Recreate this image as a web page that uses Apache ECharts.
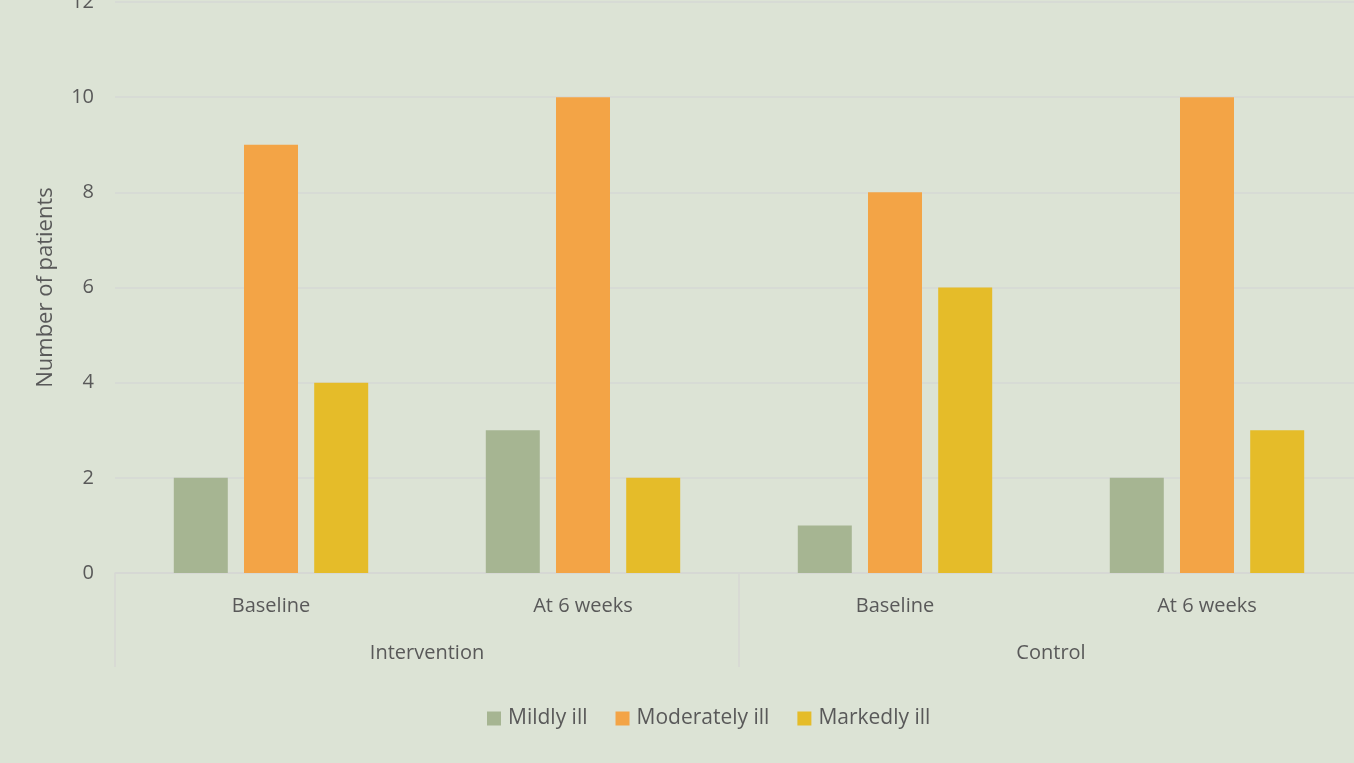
<!DOCTYPE html>
<html><head><meta charset="utf-8">
<script src="https://cdn.jsdelivr.net/npm/echarts@6/dist/echarts.min.js"></script>
<style>html,body{margin:0;padding:0;background:#dce3d5;}#c{width:1354px;height:763px;}</style>
</head><body><div id="c"></div>
<script>
const categories = ['Baseline', 'At 6 weeks', 'Baseline', 'At 6 weeks'];
const groups = ['Intervention', 'Control'];
const seriesNames = ['Mildly ill', 'Moderately ill', 'Markedly ill'];
const mildly = [2, 3, 1, 2];
const moderately = [9, 10, 8, 10];
const markedly = [4, 2, 6, 3];
const yTicks = { min: 0, max: 12, interval: 2 };

const colors = ['#a6b592', '#f3a446', '#e5bc29'];
const textColor = '#595959';
const font = 'Open Sans';
const chart = echarts.init(document.getElementById('c'));
const data = [mildly, moderately, markedly];
chart.setOption({
  backgroundColor: '#dce3d5',
  animation: false,
  textStyle: { fontFamily: font },
  grid: { left: 115, top: 2, width: 1248, height: 571, outerBoundsMode: 'none', containLabel: false },
  legend: {
    left: 482, top: 703, itemWidth: 14, itemHeight: 14, itemGap: 28,
    icon: 'rect',
    textStyle: { color: textColor, fontSize: 21, fontFamily: font, padding: [0, 0, 0, 2] },
    data: seriesNames
  },
  xAxis: [{
    type: 'category', data: categories,
    axisLine: { lineStyle: { color: '#d6d8d4', width: 1.5 } },
    axisTick: { show: false },
    axisLabel: { color: textColor, fontSize: 20, margin: 23, fontFamily: font }
  }, {
    type: 'category', data: groups, position: 'bottom',
    axisLine: { show: false },
    axisTick: { show: true, length: 94, lineStyle: { color: '#d6d8d4', width: 1.5 } },
    axisLabel: { color: textColor, fontSize: 20, margin: 70, fontFamily: font }
  }],
  yAxis: {
    type: 'value', min: yTicks.min, max: yTicks.max, interval: yTicks.interval,
    name: 'Number of patients', nameLocation: 'middle', nameGap: 58, nameRotate: 90,
    nameTextStyle: { color: textColor, fontSize: 22, fontFamily: font },
    axisLine: { show: false }, axisTick: { show: false },
    axisLabel: { color: textColor, fontSize: 20, margin: 21, fontFamily: font },
    splitLine: { lineStyle: { color: '#d6d8d4', width: 1.5 } }
  },
  series: seriesNames.map((n, i) => ({
    name: n, type: 'bar', xAxisIndex: 0, data: data[i],
    barWidth: 54, barGap: '30%',
    itemStyle: { color: colors[i] }
  }))
});
</script></body></html>
